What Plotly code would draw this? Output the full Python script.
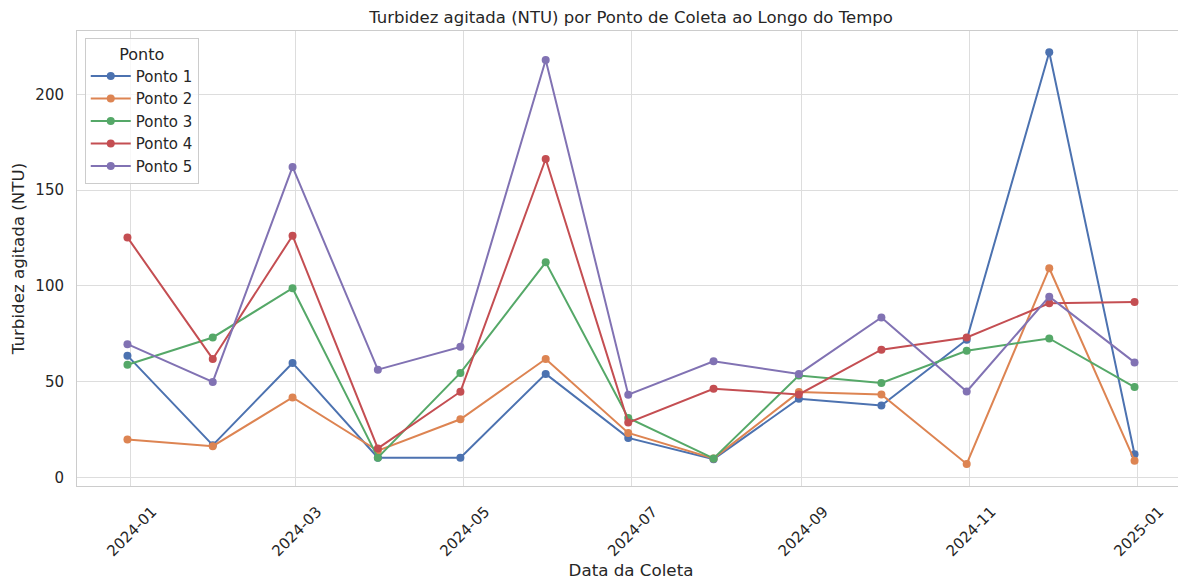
import plotly.graph_objects as go

## Data
datas = ["2023-12-31", "2024-01-31", "2024-02-29", "2024-03-31", "2024-04-30",
         "2024-05-31", "2024-06-30", "2024-07-31", "2024-08-31", "2024-09-30",
         "2024-10-31", "2024-11-30", "2024-12-31"]

ponto_1 = [63.6, 16.9, 59.8, 10.4, 10.4, 54.1, 20.7, 9.6, 41.1, 37.6, 71.9, 221.9, 12.2]
ponto_2 = [19.9, 16.4, 41.8, 14.0, 30.4, 61.9, 23.3, 10.0, 44.6, 43.4, 7.1, 109.2, 8.8]
ponto_3 = [58.9, 73.1, 98.8, 10.4, 54.6, 112.3, 31.1, 10.0, 53.2, 49.4, 66.2, 72.6, 47.2]
ponto_4 = [125.3, 61.9, 126.2, 15.2, 44.8, 166.2, 28.7, 46.3, 43.4, 66.7, 73.1, 90.9, 91.6]
ponto_5 = [69.6, 49.9, 162.1, 56.3, 68.2, 217.9, 43.2, 60.7, 54.1, 83.5, 44.9, 94.4, 60.1]

nomes = ["Ponto 1", "Ponto 2", "Ponto 3", "Ponto 4", "Ponto 5"]
series = [ponto_1, ponto_2, ponto_3, ponto_4, ponto_5]
cores = ["#4C72B0", "#DD8452", "#55A868", "#C44E52", "#8172B3"]

fig = go.Figure()

for nome, vals, cor in zip(nomes, series, cores):
    fig.add_trace(
        go.Scatter(x=datas, y=vals, name=nome, mode="lines+markers",
                   line=dict(color=cor, width=2),
                   marker=dict(color=cor, size=8)))

grid = "#dddddd"
texto = "#262626"

# the page body adds an 8px offset, so the figure is a bit smaller than the window
fig.update_layout(
    width=1178, height=573,
    margin=dict(l=69, r=1, t=23, b=95),
    plot_bgcolor="white",
    paper_bgcolor="white",
    font=dict(family="DejaVu Sans", size=15, color=texto),
    title=dict(text="Turbidez agitada (NTU) por Ponto de Coleta ao Longo do Tempo",
               xref="paper", x=0.5, xanchor="center", y=0.994, yanchor="top",
               font=dict(size=16.5, color=texto)),
    legend=dict(
        title=dict(text="Ponto", side="top center", font=dict(size=16)),
        x=0.007, y=0.985, xanchor="left", yanchor="top",
        bgcolor="rgba(255,255,255,0.8)", bordercolor="#cccccc", borderwidth=1,
        font=dict(size=15), itemwidth=40, tracegroupgap=2),
    xaxis=dict(
        type="date",
        range=["2023-12-12 16:00", "2025-01-18 08:00"],
        tick0="2024-01-01", dtick="M2", tickformat="%Y-%m",
        tickangle=-45, showgrid=True, gridcolor=grid, gridwidth=1,
        showline=True, linecolor="#cccccc", linewidth=1, mirror=True,
        ticks="", zeroline=False, automargin=False,
        ticklabelstandoff=10, ticklabelshift=22,
        title=dict(text="Data da Coleta", font=dict(size=16.7), standoff=0)),
    yaxis=dict(
        range=[-4.4, 233.0],
        tickvals=[0, 50, 100, 150, 200],
        showgrid=True, gridcolor=grid, gridwidth=1,
        showline=True, linecolor="#cccccc", linewidth=1, mirror=True,
        ticks="", zeroline=False, automargin=False, ticklabelstandoff=9,
        title=dict(text="Turbidez agitada (NTU)", font=dict(size=16.7), standoff=10)),
)

fig.write_html("out.html")
